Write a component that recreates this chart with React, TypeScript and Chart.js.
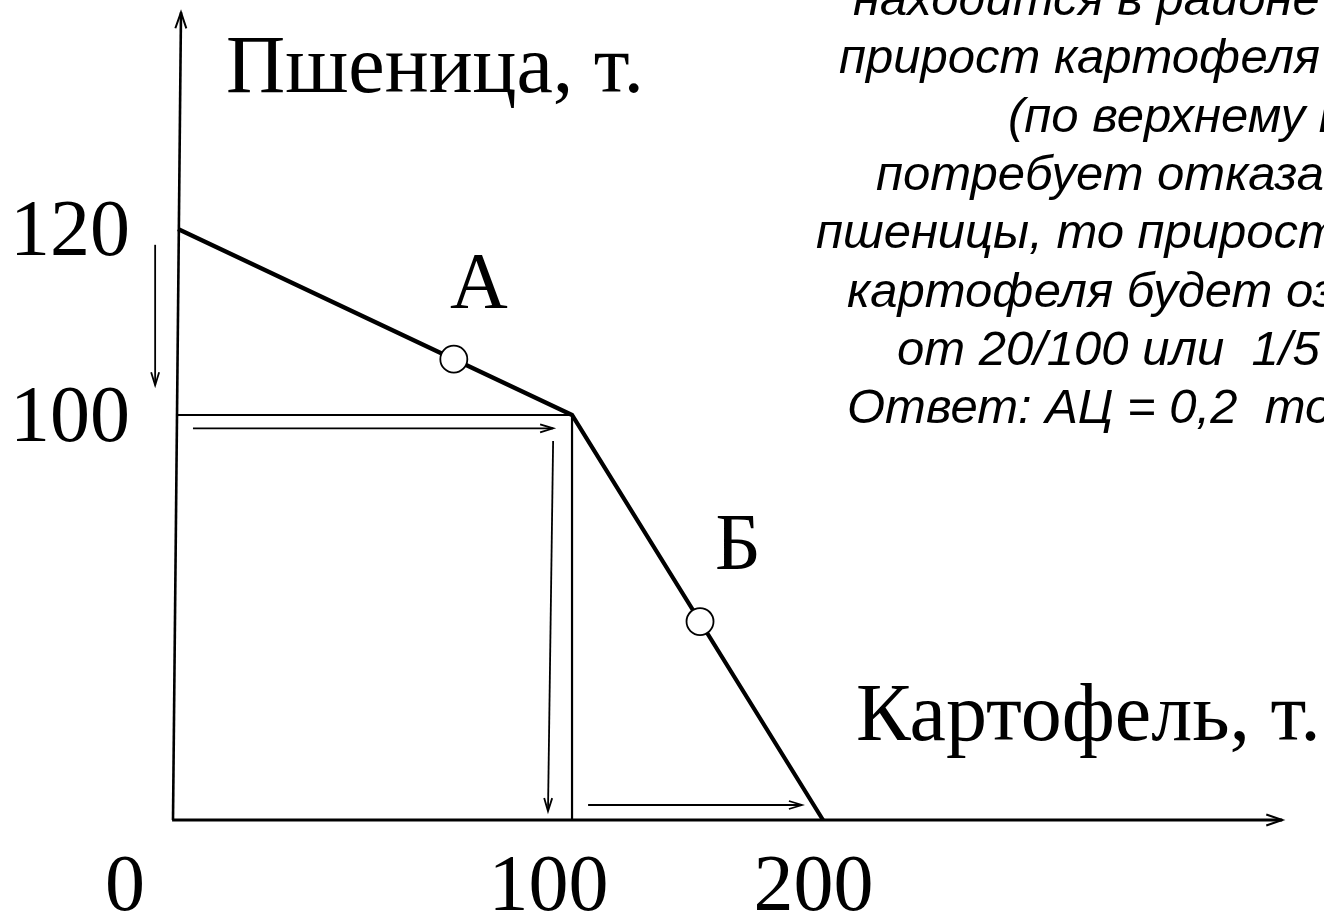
import React, { useEffect, useRef } from 'react';
import { Chart, registerables, LinearScale } from 'chart.js';

// ---------------- data ----------------
const ppfPotato = [0, 100, 200];
const ppfWheat = [120, 100, 0];

const pointNames = ['А', 'Б'];
const pointPotato = [70, 151];
const pointWheat = [106, 49];

const guidePotato = [0, 100, 100];
const guideWheat = [100, 100, 0];

const xTickLabels = ['0', '100', '200'];
const yTickValues = [120, 100];

const xAxisTitle = 'Картофель, т.';
const yAxisTitle = 'Пшеница, т.';

// helper arrows, from -> to, in data units (potato, wheat)
const arrowFromPotato = [3.8, 95.2, 106.4, -5.8];
const arrowFromWheat = [96.7, 93.6, 3.7, 118.3];
const arrowToPotato = [95.2, 93.9, 191.6, -5.8];
const arrowToWheat = [96.7, 2.2, 3.7, 103.2];

// axis extents in data units
const xAxisFromPotato = -1.5;
const xAxisToPotato = 383;
const yAxisBottomPotato = -1.27;
const yAxisTopPotato = 0.76;
const yAxisTopWheat = 143.3;

const noteLines = [
  'находится в районе точки А, то',
  'прирост картофеля от 0 до 100 т.',
  '(по верхнему плечу)',
  'потребует отказаться от 20 т.',
  'пшеницы, то прирост 1 т.',
  'картофеля будет означать отказ',
  'от 20/100 или  1/5 т. пшеницы.',
  'Ответ: АЦ = 0,2  тонны пшеницы.',
];

// ---------------- layout ----------------
const W = 1324;
const H = 915;
const SERIF = '"Liberation Serif", "Times New Roman", serif';
const SANS = '"Liberation Sans", Arial, sans-serif';
const BIG = 80;
const TITLE = 82;
const xTickCenters = [125, 548.5, 813.5];
const xTickBaseline = 910;
const yTickCenterX = 70;
const noteLefts = [853, 839, 1008, 876, 816, 847, 897, 847];
const noteFirstBaseline = 15;
const noteStep = 58.3;
const noteFont = 49;
const pointLabelDx = [25, 38];
const pointLabelDy = [-51, -53];

// piecewise linear scale (the drawing is schematic, not to scale)
class PiecewiseScale extends LinearScale {
  static id = 'piecewise';
  static defaults = {};
  _stops(): [number[], number[]] {
    const o: any = this.options;
    return [o.breakValues as number[], o.breakFractions as number[]];
  }
  getPixelForValue(value: any) {
    if (value === null || value === undefined || isNaN(value)) return NaN;
    const [vs, fs] = this._stops();
    let i = 0;
    while (i < vs.length - 2 && value > vs[i + 1]) i++;
    const dec = fs[i] + ((value - vs[i]) / (vs[i + 1] - vs[i])) * (fs[i + 1] - fs[i]);
    return this.getPixelForDecimal(dec);
  }
  getValueForPixel(pixel: number) {
    const dec = this.getDecimalForPixel(pixel);
    const [vs, fs] = this._stops();
    let i = 0;
    while (i < fs.length - 2 && dec > fs[i + 1]) i++;
    return vs[i] + ((dec - fs[i]) / (fs[i + 1] - fs[i])) * (vs[i + 1] - vs[i]);
  }
}

Chart.register(...registerables, PiecewiseScale as any);

function strokeLine(ctx: CanvasRenderingContext2D, x1: number, y1: number, x2: number, y2: number, w: number) {
  ctx.lineWidth = w;
  ctx.beginPath();
  ctx.moveTo(x1, y1);
  ctx.lineTo(x2, y2);
  ctx.stroke();
}

function arrowHead(ctx: CanvasRenderingContext2D, fx: number, fy: number, tx: number, ty: number, len: number, half: number, w: number) {
  const a = Math.atan2(ty - fy, tx - fx);
  const bx = tx - len * Math.cos(a);
  const by = ty - len * Math.sin(a);
  const px = -Math.sin(a) * half;
  const py = Math.cos(a) * half;
  ctx.lineWidth = w;
  ctx.beginPath();
  ctx.moveTo(bx + px, by + py);
  ctx.lineTo(tx, ty);
  ctx.lineTo(bx - px, by - py);
  ctx.stroke();
}

const sketchPlugin = {
  id: 'sketch',
  beforeDatasetsDraw(chart: any) {
    const ctx: CanvasRenderingContext2D = chart.ctx;
    const xs = chart.scales.x;
    const ys = chart.scales.y;
    ctx.save();
    ctx.strokeStyle = '#000';
    ctx.lineCap = 'butt';
    // x axis
    const y0 = ys.getPixelForValue(0);
    const xa1 = xs.getPixelForValue(xAxisFromPotato);
    const xa2 = xs.getPixelForValue(xAxisToPotato);
    strokeLine(ctx, xa1, y0, xa2, y0, 3.2);
    arrowHead(ctx, xa1, y0, xa2, y0, 16, 5.5, 2);
    // y axis
    const yb = xs.getPixelForValue(yAxisBottomPotato);
    const yt = xs.getPixelForValue(yAxisTopPotato);
    const ytop = ys.getPixelForValue(yAxisTopWheat);
    strokeLine(ctx, yb, y0, yt, ytop, 2.6);
    arrowHead(ctx, yb, y0, yt, ytop, 16, 5.5, 2);
    // helper arrows
    for (let i = 0; i < arrowFromPotato.length; i++) {
      const fx = xs.getPixelForValue(arrowFromPotato[i]);
      const fy = ys.getPixelForValue(arrowFromWheat[i]);
      const tx = xs.getPixelForValue(arrowToPotato[i]);
      const ty = ys.getPixelForValue(arrowToWheat[i]);
      strokeLine(ctx, fx, fy, tx, ty, 1.8);
      arrowHead(ctx, fx, fy, tx, ty, 13, 4, 1.8);
    }
    ctx.restore();
  },
  afterDraw(chart: any) {
    const ctx: CanvasRenderingContext2D = chart.ctx;
    const xs = chart.scales.x;
    const ys = chart.scales.y;
    ctx.save();
    ctx.fillStyle = '#000';
    ctx.textBaseline = 'alphabetic';
    ctx.font = `${BIG}px ${SERIF}`;
    // y tick labels
    ctx.textAlign = 'center';
    yTickValues.forEach((v) => {
      ctx.fillText(String(v), yTickCenterX, ys.getPixelForValue(v) + BIG * 0.32);
    });
    // x tick labels
    xTickLabels.forEach((t, i) => {
      ctx.fillText(t, xTickCenters[i], xTickBaseline);
    });
    // point names
    pointNames.forEach((n, i) => {
      const px = xs.getPixelForValue(pointPotato[i]);
      const py = ys.getPixelForValue(pointWheat[i]);
      ctx.fillText(n, px + pointLabelDx[i], py + pointLabelDy[i]);
    });
    // axis titles
    ctx.textAlign = 'left';
    ctx.font = `${TITLE}px ${SERIF}`;
    ctx.fillText(yAxisTitle, 226, 92);
    ctx.fillText(xAxisTitle, 856, 740);
    // note text
    ctx.font = `italic ${noteFont}px ${SANS}`;
    noteLines.forEach((line, i) => {
      ctx.fillText(line, noteLefts[i], noteFirstBaseline + i * noteStep);
    });
    ctx.restore();
  },
};

export default function App() {
  const ref = useRef<HTMLCanvasElement | null>(null);
  useEffect(() => {
    let chart: Chart | null = null;
    let cancelled = false;
    const make = () => {
      if (cancelled || !ref.current) return;
      chart = new Chart(ref.current, {
        type: 'scatter',
        data: {
          datasets: [
            {
              label: 'points',
              data: pointPotato.map((x, i) => ({ x, y: pointWheat[i] })),
              showLine: false,
              pointRadius: 13.5,
              pointBackgroundColor: '#ffffff',
              pointBorderColor: '#000000',
              pointBorderWidth: 1.8,
              order: 0,
              clip: false,
            } as any,
            {
              label: 'ppf',
              data: ppfPotato.map((x, i) => ({ x, y: ppfWheat[i] })),
              showLine: true,
              borderColor: '#000000',
              borderWidth: 4.2,
              pointRadius: 0,
              order: 1,
              clip: false,
            } as any,
            {
              label: 'guide',
              data: guidePotato.map((x, i) => ({ x, y: guideWheat[i] })),
              showLine: true,
              borderColor: '#000000',
              borderWidth: 2.2,
              pointRadius: 0,
              order: 2,
              clip: false,
            } as any,
          ],
        },
        options: {
          animation: false,
          responsive: false,
          events: [],
          layout: { padding: { left: 178, right: W - 823, top: 229, bottom: H - 820 } },
          scales: {
            x: {
              type: 'piecewise' as any,
              min: 0,
              max: 200,
              display: false,
              breakValues: [0, 100, 200],
              breakFractions: [0, 0.6109, 1],
            } as any,
            y: {
              type: 'piecewise' as any,
              min: 0,
              max: 120,
              display: false,
              breakValues: [0, 100, 120],
              breakFractions: [0, 0.6853, 1],
            } as any,
          },
          plugins: { legend: { display: false }, tooltip: { enabled: false } },
        },
        plugins: [sketchPlugin as any],
      });
    };
    const fonts: any = (document as any).fonts;
    if (fonts && fonts.load) {
      Promise.all([
        fonts.load(`${BIG}px "Liberation Serif"`),
        fonts.load(`italic ${noteFont}px "Liberation Sans"`),
      ]).then(make, make);
    } else {
      make();
    }
    return () => {
      cancelled = true;
      if (chart) chart.destroy();
    };
  }, []);
  return (
    <div style={{ position: 'fixed', left: 0, top: 0, width: W, height: H, background: '#fff' }}>
      <canvas ref={ref} width={W} height={H} style={{ display: 'block', width: W, height: H }} />
    </div>
  );
}
